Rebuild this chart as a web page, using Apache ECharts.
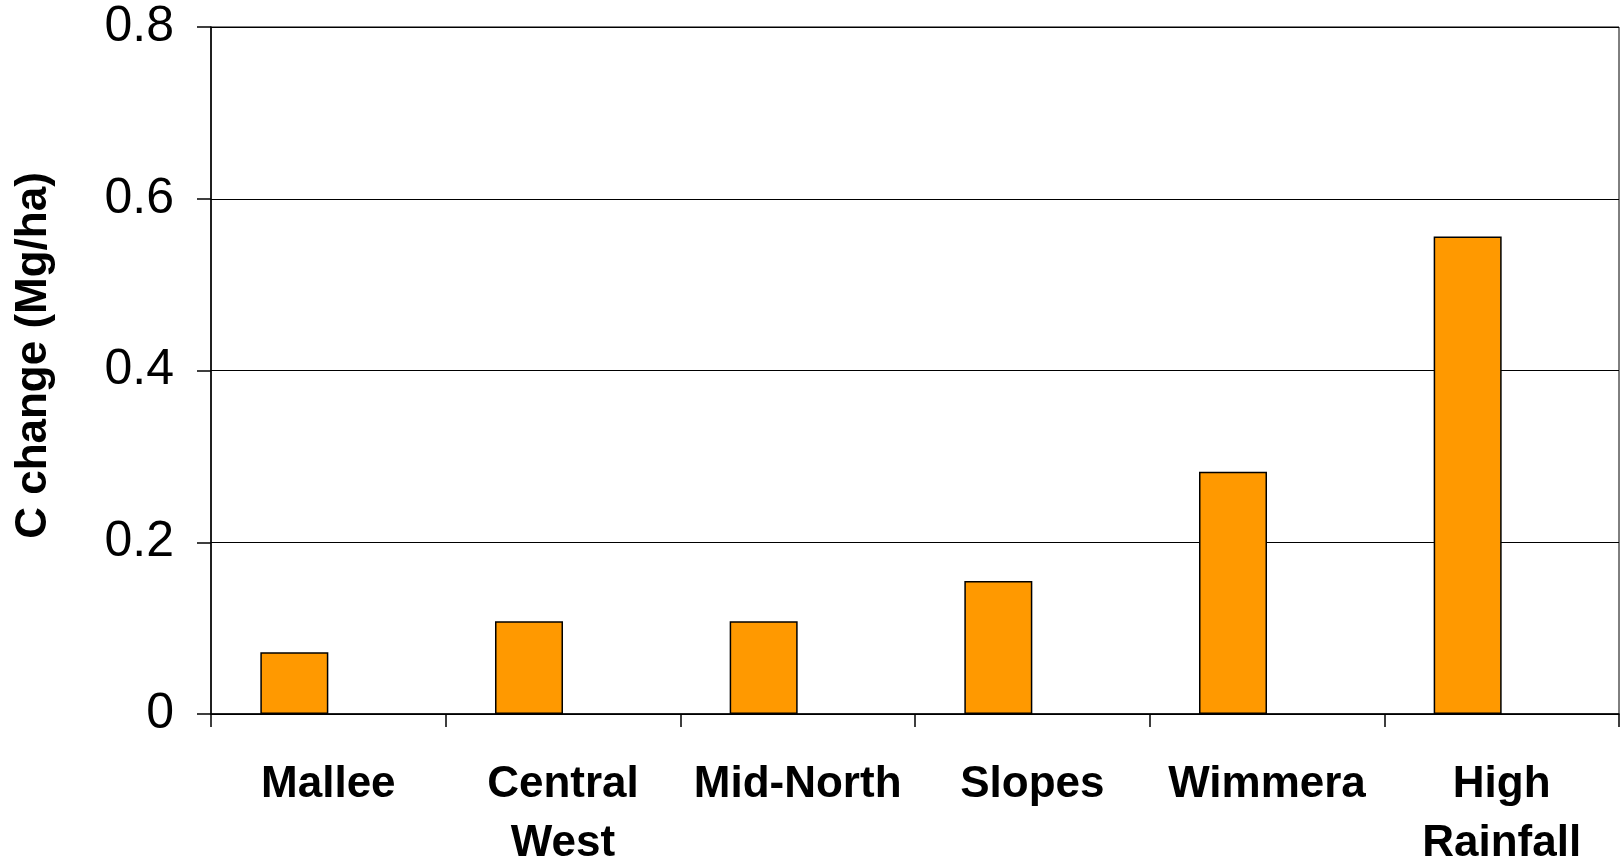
<!DOCTYPE html>
<html>
<head>
<meta charset="utf-8">
<title>C change by region</title>
<script src="https://cdn.jsdelivr.net/npm/echarts@6/dist/echarts.min.js"></script>
<style>
  html, body { margin: 0; padding: 0; background: #fff; }
  #chart { width: 1621px; height: 859px; }
</style>
</head>
<body>
<div id="chart"></div>
<script>
// Regions along the category axis (line breaks as printed)
const regions = ['Mallee', 'Central\nWest', 'Mid-North', 'Slopes', 'Wimmera', 'High\nRainfall'];
// Carbon change per region (Mg/ha)
const cChange = [0.072, 0.108, 0.108, 0.155, 0.282, 0.556];
// Second slot in each cluster carries no values
const emptySeries = [null, null, null, null, null, null];
// Value axis
const yMin = 0;
const yMax = 0.8;
const yStep = 0.2;

const chart = echarts.init(document.getElementById('chart'), null, { renderer: 'canvas' });

chart.setOption({
  animation: false,
  backgroundColor: '#ffffff',
  grid: {
    left: 211, right: 2, top: 27, bottom: 145,
    outerBoundsMode: 'none',
    containLabel: false,
    show: true, borderColor: '#000', borderWidth: 1, backgroundColor: 'transparent'
  },
  xAxis: {
    type: 'category',
    data: regions,
    boundaryGap: true,
    axisLine: { show: true, lineStyle: { color: '#000', width: 1.5 } },
    axisTick: { show: true, length: 13, alignWithLabel: false, lineStyle: { color: '#000', width: 1.5 } },
    axisLabel: {
      interval: 0,
      margin: 41,
      color: '#000',
      fontFamily: '"Liberation Sans", Arial, sans-serif',
      fontWeight: 'bold',
      fontSize: 44,
      lineHeight: 59
    },
    splitLine: { show: false }
  },
  yAxis: {
    type: 'value',
    min: yMin,
    max: yMax,
    interval: yStep,
    name: 'C change (Mg/ha)',
    nameLocation: 'middle',
    nameRotate: 90,
    nameGap: 155,
    nameTextStyle: {
      color: '#000',
      fontFamily: '"Liberation Sans", Arial, sans-serif',
      fontWeight: 'bold',
      fontSize: 44,
      padding: [0, 0, 0, 30]
    },
    axisLine: { show: true, lineStyle: { color: '#000', width: 1.5 } },
    axisTick: { show: true, length: 14, lineStyle: { color: '#000', width: 1.5 } },
    axisLabel: {
      margin: 37,
      color: '#000',
      fontFamily: '"Liberation Sans", Arial, sans-serif',
      fontSize: 50,
      formatter: v => (v === 0 ? '0' : v.toFixed(1))
    },
    splitLine: { show: true, lineStyle: { color: '#000', width: 1 } }
  },
  series: [
    {
      type: 'bar',
      data: cChange,
      barWidth: 68,
      barGap: '0%',
      itemStyle: { color: '#FF9900', borderColor: '#000', borderWidth: 1.5 }
    },
    {
      type: 'bar',
      data: emptySeries,
      barWidth: 68,
      barGap: '0%',
      itemStyle: { color: '#993366', borderColor: '#000', borderWidth: 1.5 }
    }
  ]
});
</script>
</body>
</html>
